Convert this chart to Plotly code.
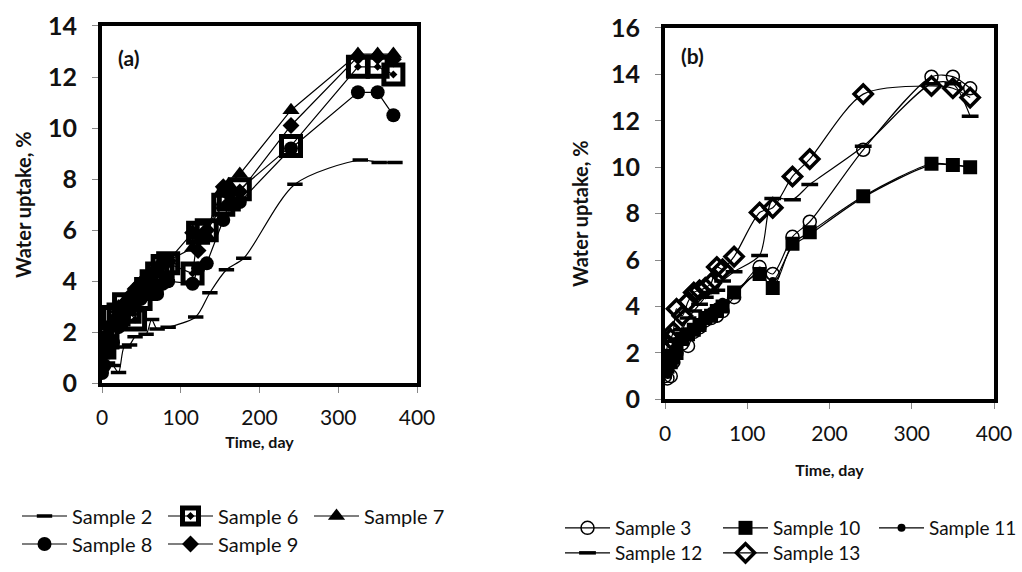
import plotly.graph_objects as go

# ---------------- data: panel (a) ----------------
t_a = [0, 3, 7, 14, 21, 28, 35, 42, 49, 56, 63, 70, 77, 84, 115, 122, 133, 154, 161, 175, 240, 325, 350, 370]
sample6 = [1.6, 1.4, 1.8, 2.6, 2.7, 3.1, 2.8, 2.5, 3.3, 3.7, 4.0, 4.3, 4.6, 4.7, 4.3, 5.9, 6.0, 7.0, 7.2, 7.6, 9.3, 12.4, 12.4, 12.1]
sample7 = [1.5, 1.7, 2.0, 2.5, 3.0, 3.2, 3.4, 3.6, 3.9, 4.1, 4.3, 4.5, 4.7, 4.8, 5.3, 5.8, 5.8, 7.6, 7.8, 8.2, 10.7, 12.9, 12.9, 12.9]
sample8 = [0.4, 0.7, 1.2, 1.6, 2.2, 2.6, 2.9, 3.2, 3.3, 3.5, 3.7, 3.5, 3.9, 4.0, 3.9, 4.5, 4.7, 6.4, 7.0, 7.1, 9.2, 11.4, 11.4, 10.5]
sample9 = [0.6, 1.2, 1.8, 2.3, 2.8, 3.1, 3.4, 3.7, 3.9, 4.1, 4.3, 4.5, 4.7, 4.8, 5.9, 5.2, 6.0, 7.7, 7.4, 7.5, 10.1, 12.8, 12.8, 12.7]
t_2 = [7, 14, 21, 28, 35, 42, 56, 63, 70, 84, 119, 137, 158, 180, 245, 328, 352, 372]
sample2 = [0.8, 0.7, 0.42, 1.42, 1.5, 1.82, 1.92, 2.5, 2.13, 2.2, 2.6, 3.55, 4.45, 4.9, 7.8, 8.75, 8.65, 8.65]

# ---------------- data: panel (b) ----------------
t_b = [0, 3, 7, 10, 14, 21, 28, 35, 42, 49, 56, 63, 70, 84, 115, 131, 155, 176, 241, 324, 350, 371]
sample3 = [1.0, 0.9, 1.0, 1.6, 2.0, 2.4, 2.3, 2.9, 3.1, 3.4, 3.5, 3.6, 3.8, 4.4, 5.7, 5.4, 7.0, 7.65, 10.75, 13.9, 13.9, 13.4]
sample10 = [1.2, 1.4, 1.6, 1.8, 2.0, 2.6, 2.8, 3.0, 3.2, 3.5, 3.6, 3.8, 4.0, 4.6, 5.4, 4.8, 6.7, 7.2, 8.75, 10.15, 10.1, 10.0]
sample11 = [1.1, 1.5, 1.7, 2.0, 2.3, 2.7, 2.9, 3.1, 3.3, 3.6, 3.8, 4.0, 4.2, 4.5, 5.5, 5.1, 6.6, 7.1, 8.7, 10.1, 10.1, 10.0]
sample12 = [1.4, 1.8, 2.1, 2.5, 2.6, 3.0, 3.5, 3.8, 4.1, 4.4, 4.6, 4.7, 5.1, 5.5, 6.2, 8.65, 8.6, 9.25, 10.9, 13.6, 13.6, 12.2]
sample13 = [1.5, 2.3, 2.6, 2.9, 3.9, 3.6, 4.2, 4.6, 4.7, 4.8, 5.0, 5.7, 5.6, 6.15, 8.05, 8.25, 9.6, 10.35, 13.15, 13.5, 13.4, 13.0]

y_ticks_a = [0, 2, 4, 6, 8, 10, 12, 14]
y_ticks_b = [0, 2, 4, 6, 8, 10, 12, 14, 16]
x_ticks = [0, 100, 200, 300, 400]

FONT = "Lato"
BLK = "black"
TXT = "#111"
W, H = 1022, 572

fig = go.Figure()

def add(x, y, name, xa, ya, legend, rank, symbol, size, lw_m=0, shape="linear", mcolor=BLK, fill=BLK):
    fig.add_trace(go.Scatter(
        x=x, y=y, name=name, xaxis=xa, yaxis=ya, mode="lines+markers",
        legend=legend, legendrank=rank,
        line=dict(color=BLK, width=1.2, shape=shape, smoothing=0.8),
        marker=dict(symbol=symbol, size=size, color=fill,
                    line=dict(color=mcolor, width=lw_m)),
    ))

# panel (a)
add(t_2, sample2, "Sample 2", "x", "y", "legend", 1, "line-ew", 11, 3.5, shape="spline")
add(t_a, sample7, "Sample 7", "x", "y", "legend", 3, "triangle-up", 15)
add(t_a, sample9, "Sample 9", "x", "y", "legend2", 5, "diamond", 13)
add(t_a, sample8, "Sample 8", "x", "y", "legend2", 4, "circle", 14)
add(t_a, sample6, "Sample 6", "x", "y", "legend", 2, "square-open-dot", 19, 5)

# panel (b)
add(t_b, sample10, "Sample 10", "x2", "y2", "legend3", 2, "square", 14, shape="spline")
add(t_b, sample11, "Sample 11", "x2", "y2", "legend5", 3, "circle", 8, shape="spline")
add(t_b, sample12, "Sample 12", "x2", "y2", "legend4", 4, "line-ew", 12, 3.5, shape="spline")
add(t_b, sample13, "Sample 13", "x2", "y2", "legend4", 5, "diamond-open", 14, 3.5, shape="spline")
add(t_b, sample3, "Sample 3", "x2", "y2", "legend3", 1, "circle-open", 13, 1.5, shape="spline")

def px_x(p):
    return p / W

def px_y(p):
    return 1 - p / H

axis_common = dict(
    showline=True, linecolor=BLK, linewidth=4, mirror=True,
    ticks="outside", ticklen=6, tickcolor="#888", tickwidth=1,
    showgrid=False, zeroline=False, automargin=False,
)

fig.update_layout(
    template="none",
    autosize=True,
    margin=dict(l=0, r=0, t=0, b=0),
    paper_bgcolor="white", plot_bgcolor="white",
    showlegend=True,
    xaxis=dict(domain=[px_x(102), px_x(417)], anchor="y", range=[0, 400],
               tickvals=x_ticks, ticklabelstandoff=6,
               tickfont=dict(family=FONT, size=21, color=TXT),
               title=dict(text="<b>Time, day</b>", font=dict(family=FONT, size=16, color=TXT), standoff=10),
               **axis_common),
    yaxis=dict(domain=[px_y(384), px_y(26)], anchor="x", range=[0, 14],
               tickvals=y_ticks_a, ticklabelstandoff=10,
               tickfont=dict(family=FONT, size=25, color=TXT, weight="bold"),
               title=dict(text="<b>Water uptake, %</b>", font=dict(family=FONT, size=20, color=TXT), standoff=12),
               **axis_common),
    xaxis2=dict(domain=[px_x(665), px_x(994)], anchor="y2", range=[0, 400],
                tickvals=x_ticks, ticklabelstandoff=6,
                tickfont=dict(family=FONT, size=21, color=TXT),
                title=dict(text="<b>Time, day</b>", font=dict(family=FONT, size=16, color=TXT), standoff=22),
                **axis_common),
    yaxis2=dict(domain=[px_y(400), px_y(28)], anchor="x2", range=[0, 16],
                tickvals=y_ticks_b, ticklabelstandoff=10,
                tickfont=dict(family=FONT, size=25, color=TXT, weight="bold"),
                title=dict(text="<b>Water uptake, %</b>", font=dict(family=FONT, size=20, color=TXT), standoff=18),
                **axis_common),
)

leg_common = dict(orientation="h", xanchor="left", yanchor="middle", bgcolor="rgba(0,0,0,0)",
                  itemwidth=45, entrywidthmode="pixels", traceorder="normal", itemclick=False)
f20 = dict(family=FONT, size=20, color=TXT)
f19 = dict(family=FONT, size=19, color=TXT)
fig.update_layout(
    legend=dict(x=px_x(17), y=px_y(516), entrywidth=86, font=f20, **leg_common),
    legend2=dict(x=px_x(17), y=px_y(544), entrywidth=86, font=f20, **leg_common),
    legend3=dict(x=px_x(560), y=px_y(528), entrywidth=98, font=f19, **leg_common),
    legend5=dict(x=px_x(874), y=px_y(528), font=f19, **leg_common),
    legend4=dict(x=px_x(560), y=px_y(554), entrywidth=98, font=f19, **leg_common),
)

fig.add_annotation(x=0.045, y=0.913, xref="x domain", yref="y domain", text="<b>(a)</b>",
                   showarrow=False, xanchor="left", yanchor="middle",
                   font=dict(family=FONT, size=21, color=TXT))
fig.add_annotation(x=0.043, y=0.927, xref="x2 domain", yref="y2 domain", text="<b>(b)</b>",
                   showarrow=False, xanchor="left", yanchor="middle",
                   font=dict(family=FONT, size=21, color=TXT))

clip_js = (
    "document.documentElement.style.overflow='hidden';"
    "document.body.style.margin='0';document.body.style.overflow='hidden';"
)

fig.write_html("out.html",
               default_width="100vw", default_height="100vh",
               config={"displayModeBar": False, "responsive": True},
               post_script=clip_js)
